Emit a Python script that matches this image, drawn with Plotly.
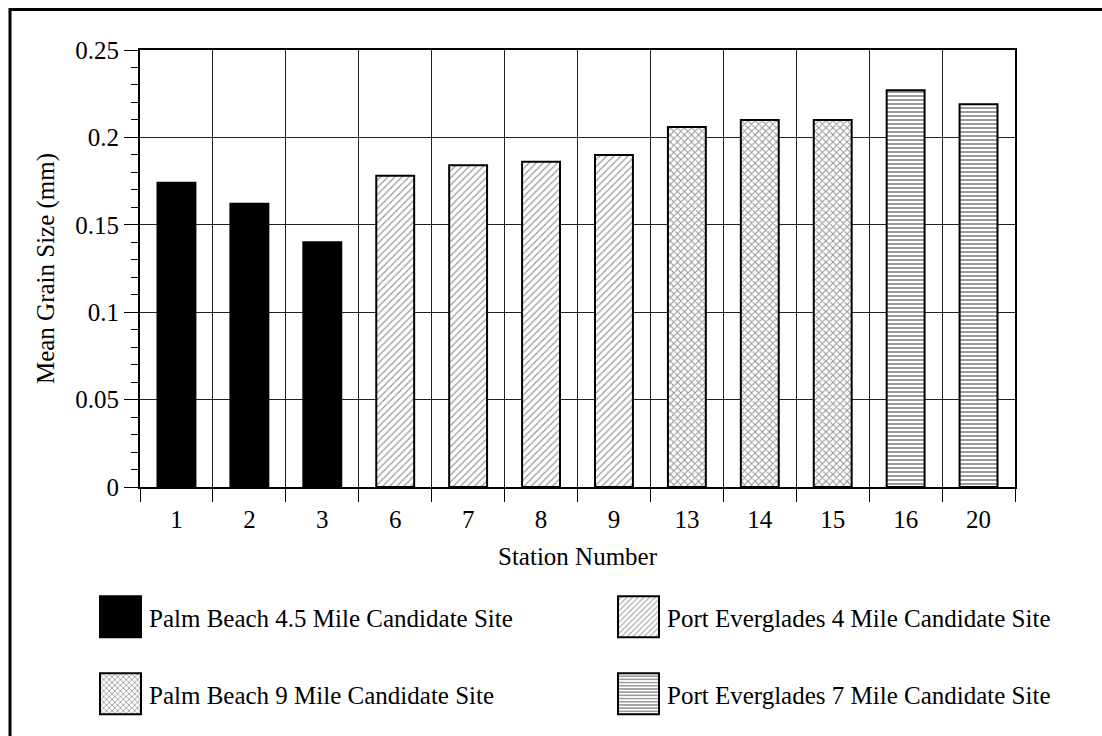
import plotly.graph_objects as go

# ---- data ----
stations = ["1", "2", "3", "6", "7", "8", "9", "13", "14", "15", "16", "20"]

pb45_stations = ["1", "2", "3"]
pb45_values = [0.174, 0.162, 0.140]

pe4_stations = ["6", "7", "8", "9"]
pe4_values = [0.178, 0.184, 0.186, 0.190]

pb9_stations = ["13", "14", "15"]
pb9_values = [0.206, 0.210, 0.210]

pe7_stations = ["16", "20"]
pe7_values = [0.227, 0.219]

series_names = [
    "Palm Beach 4.5 Mile Candidate Site",
    "Port Everglades 4 Mile Candidate Site",
    "Palm Beach 9 Mile Candidate Site",
    "Port Everglades 7 Mile Candidate Site",
]

FONT = "Liberation Serif, Times New Roman, serif"
FS = 25

fig = go.Figure()

def add_bar(xs, ys, name, legend, color, pattern):
    fig.add_trace(go.Bar(
        x=xs, y=ys, name=name, legend=legend, width=0.52, showlegend=True,
        marker=dict(color=color, line=dict(color="black", width=2),
                    pattern=pattern),
    ))

add_bar(pb45_stations, pb45_values, series_names[0], "legend", "black", dict(shape=""))
add_bar(pe4_stations, pe4_values, series_names[1], "legend2", "white",
        dict(shape="/", fgcolor="#333333", bgcolor="white", size=5, solidity=0.25))
add_bar(pb9_stations, pb9_values, series_names[2], "legend3", "white",
        dict(shape="x", fgcolor="#222222", bgcolor="white", size=5, solidity=0.35))
add_bar(pe7_stations, pe7_values, series_names[3], "legend4", "white",
        dict(shape="-", fgcolor="#222222", bgcolor="white", size=4, solidity=0.45))

L, R, T, B = 140, 87, 50, 249
W, H = 1102, 736
pw, ph = W - L - R, H - T - B

def px_x(px):
    return (px - L) / pw

def px_y(py):
    return (H - B - py) / ph

leg_common = dict(orientation="v", xanchor="left", yanchor="middle",
                  bgcolor="rgba(0,0,0,0)", borderwidth=0,
                  font=dict(family=FONT, size=FS, color="black"))

fig.update_layout(
    width=W, height=H,
    margin=dict(l=L, r=R, t=T, b=B),
    paper_bgcolor="white", plot_bgcolor="white",
    barmode="overlay",
    showlegend=True,
    font=dict(family=FONT, size=FS, color="black"),
    legend=dict(x=px_x(109), y=px_y(617), **leg_common),
    legend2=dict(x=px_x(627), y=px_y(617), **leg_common),
    legend3=dict(x=px_x(109), y=px_y(694), **leg_common),
    legend4=dict(x=px_x(627), y=px_y(694), **leg_common),
    xaxis=dict(
        type="category", categoryorder="array", categoryarray=stations,
        tickson="boundaries", ticks="outside", ticklen=13, tickcolor="black", tickwidth=1,
        ticklabelstandoff=9,
        showgrid=True, gridcolor="#222222", gridwidth=1,
        showline=True, linecolor="black", linewidth=2, mirror=True,
        tickfont=dict(family=FONT, size=FS, color="black"),
        title=dict(text="Station Number", standoff=15,
                   font=dict(family=FONT, size=FS, color="black")),
        zeroline=False,
    ),
    yaxis=dict(
        range=[0, 0.25], dtick=0.05, tick0=0,
        ticks="outside", ticklen=14, tickcolor="black", tickwidth=1,
        minor=dict(dtick=0.01, ticks="outside", ticklen=7, tickcolor="black", showgrid=False),
        showgrid=True, gridcolor="#222222", gridwidth=1,
        showline=True, linecolor="black", linewidth=2, mirror=True,
        tickfont=dict(family=FONT, size=FS, color="black"),
        title=dict(text="Mean Grain Size (mm)", standoff=14,
                   font=dict(family=FONT, size=FS, color="black")),
        zeroline=False,
    ),
    shapes=[dict(type="rect", xref="paper", yref="paper",
                 x0=px_x(10), x1=px_x(1115), y0=px_y(9.5), y1=px_y(760),
                 line=dict(color="black", width=3), fillcolor="rgba(0,0,0,0)",
                 layer="above")],
)

post = """
var gd = document.getElementById('{plot_id}');
function bigSwatches(){
  document.querySelectorAll('g.scrollbox').forEach(function(e){ e.removeAttribute('clip-path'); });
  var ps = document.querySelectorAll('g.legendpoints path');
  ps.forEach(function(p){
    p.setAttribute('d', 'M-29,20.5H12V-20.5H-29Z');
    p.style.strokeWidth = '2px';
    p.style.stroke = 'black';
  });
}
bigSwatches();
setTimeout(bigSwatches, 0);
if (gd && gd.on) { gd.on('plotly_afterplot', bigSwatches); }
"""

fig.write_html("out.html", post_script=post)
